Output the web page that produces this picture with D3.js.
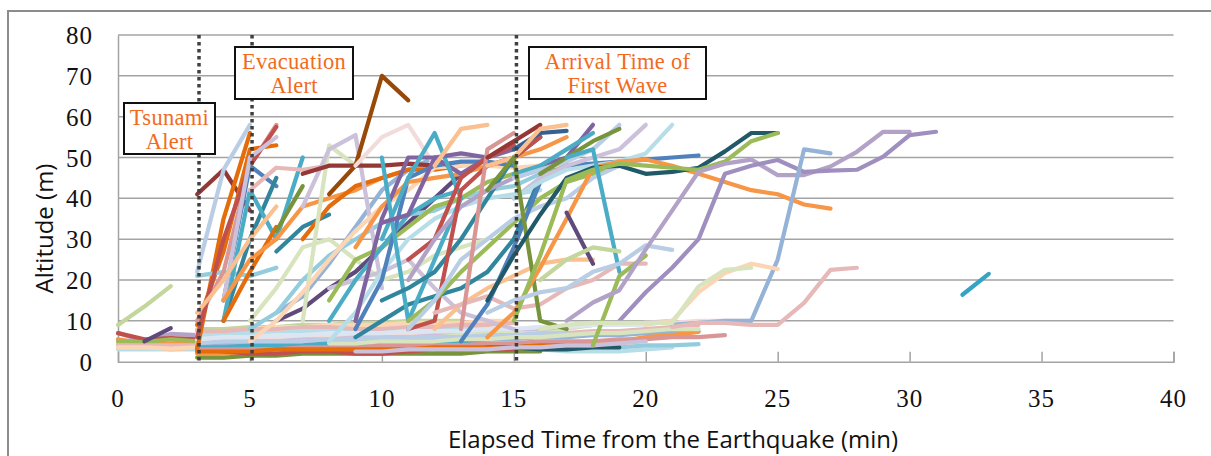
<!DOCTYPE html>
<html>
<head>
<meta charset="utf-8">
<script src="https://cdn.jsdelivr.net/npm/d3@7"></script>
<style>
  html, body { margin: 0; padding: 0; background: #fff; }
  svg { display: block; }
</style>
</head>
<body>
<div id="chart"></div>
<script>
// ---- data ----
const xTicks = [0, 5, 10, 15, 20, 25, 30, 35, 40];
const yTicks = [0, 10, 20, 30, 40, 50, 60, 70, 80];
const xTitle = 'Elapsed Time from the Earthquake (min)';
const yTitle = 'Altitude (m)';

// event markers (minutes) and the texts of their boxes
const eventTimes = [3.07, 5.08, 15.1];
const eventLabels = [
    ['Tsunami', 'Alert'],
    ['Evacuation', 'Alert'],
    ['Arrival Time of', 'First Wave']
];

// each track: colour, first minute, altitude (m) at every following minute
const lowTracks = [
    ['#B7DEE8', 0, [3, 3, 3, 3, 3.5, 3.5, 3.5, 4, 4, 3.5, 3.5, 3, 3, 3, 3, 3, 3, 2.5, 2.5, 2.5, 3, 3.5]],
    ['#FAC090', 0, [4.5, 4, 3, 3.5, 4, 5, 5, 6, 6.5, 7, 7, 7, 7.5, 8, 8, 8]],
    ['#F79646', 0, [5.5, 4.5, 4.5, 4.8, 5, 6, 6, 7, 8, 8, 8.5, 8.5, 9, 9]],
    ['#B3A2C7', 0, [7, 5, 6.8, 6.5, 6, 7, 7, 7.5, 8, 8, 8, 8.5, 9, 9, 9]],
    ['#C0504D', 0, [7, 5.5, 5.8, 5.5, 5]],
    ['#9BBB59', 0, [5, 4.8, 5.5, 5, 5]],
    ['#E6B9B8', 0, [4, 4, 4, 4, 4.5, 4.5, 4, 4, 4, 4, 4.5, 5, 5, 5.5, 6, 6, 6.5, 7, 7.5, 7.5, 8, 8.5, 9]],
    ['#FCD5B5', 0, [3.5, 3.5, 3.2, 3.5, 3.8, 4, 4, 4.5, 4.5, 5, 5, 5]],
    ['#95B3D7', 3, [4, 4, 4, 4.5, 4.5, 4.5, 5, 5, 5, 5, 5, 5.5, 5.5, 6, 6, 6.5, 6.5, 7, 7, 7.5]],
    ['#D7E4BD', 3, [6, 6, 6, 6, 6, 6, 6, 6.5, 6.5, 7, 7, 7.5, 7.5, 8, 8, 9]],
    ['#93CDDD', 3, [2, 2, 2.5, 2.5, 3, 3, 3, 3, 3, 3, 3, 3, 3, 3.5, 3.5, 3.5, 3.5, 4, 4, 4.3]],
    ['#77933C', 3, [1, 1, 1.5, 1.5, 2, 2, 2, 2, 2, 2, 2, 2.5, 2.5, 2.5]],
    ['#F79646', 3, [2, 2, 2.5, 2.5, 3, 3, 3, 3, 3.5, 3.5, 4, 4, 4, 4.5, 4.5, 5, 5, 6, 6.5, 7.3]],
    ['#C0504D', 3, [3, 2.5, 2, 2, 2.5, 2.5, 2, 2, 2.5, 3, 3, 3, 3]],
    ['#376092', 12, [3, 3, 4, 4, 3.5, 3.5, 4]],
    ['#CCC1DA', 3, [5, 5, 5.5, 5.5, 6, 6, 6.5, 6.5, 7, 7, 7.5, 8, 8, 8, 8.5, 9, 9, 9.5, 10]],
    ['#FCD5B5', 3, [7, 7.5, 7.5, 8, 8, 8, 8, 8.5, 8.5, 9, 9, 9]],
    ['#4BACC6', 3, [3.5, 3.5, 4, 4, 4, 4.5, 4.5, 4.5, 5, 5, 5, 5]],
    ['#F2DCDB', 3, [5.5, 5.5, 6, 6, 6.5, 6.5, 7, 7, 7, 7.5, 7.5, 8, 8, 8.5, 8.5, 9, 9, 9.5, 9.5, 10, 10, 10]],
    ['#D99694', 3, [3, 3, 3, 3, 3.5, 3.5, 3.5, 4, 4, 4, 4, 4.5, 4.5, 5, 5, 5, 5.5, 5.5, 6, 6, 6.5]],
    ['#B9CDE5', 3, [4.5, 5, 5, 5, 5, 5.5, 5.5, 6, 6, 6, 6, 6.5, 6.5, 7, 7]],
    ['#C3D69B', 3, [8, 8, 8.5, 8.5, 9, 9, 9.5, 9.5, 10, 10, 10]],
    ['#215968', 14, [3.5, 3.5, 3, 3, 3.5, 3.5]],
    ['#E46C0A', 3, [2.5, 2.5, 2.5, 3, 3, 3, 3, 3, 3, 3.5, 3.5, 3.5, 3.5, 4, 4, 4]],
    ['#FCD5B5', 5, [8, 8.5, 8.5, 9, 9, 9, 9.5, 9.5, 9.5, 10, 10]],
    ['#B7DEE8', 3, [6.5, 7, 7, 7, 7.5, 7.5, 7.5, 8, 8, 8, 8, 8]],
    ['#E6B9B8', 3, [7.5, 7.5, 8, 8, 8.5, 8.5, 8, 8, 8.5, 8.5, 9, 9, 9.5]],
    ['#DCE6F2', 3, [5.5, 6, 6, 6.5, 6.5, 7, 7, 7, 7.5, 7.5, 7.5, 8, 8, 8.5, 8.5, 9, 9, 9]],
    ['#D7E4BD', 8, [4.5, 4.5, 5, 5, 5, 5.5, 5.5, 6, 6, 6.5, 7, 7, 7.5, 8, 8]],
    ['#CCC1DA', 9, [2.5, 2.5, 3, 3, 3, 3, 3.5, 3.5, 4, 4, 4.5, 5]]
];

const climbTracks = [
    ['#C3D69B', 0, [9, 13.5, 18.5]],
    ['#604A7B', 1, [5, 8.2]],
    ['#953735', 3, [41, 47, 37]],
    ['#E46C0A', 3, [3, 35, 56]],
    ['#E46C0A', 3, [9, 27, 52, 53]],
    ['#B9CDE5', 3, [22, 47, 58]],
    ['#93CDDD', 3, [21, 22, 21, 23]],
    ['#D99694', 3, [10, 22, 48, 58]],
    ['#C0504D', 3, [6, 30, 48, 57.5]],
    ['#4F81BD', 4, [15, 48, 43]],
    ['#31859C', 4, [10, 30, 45]],
    ['#4BACC6', 4, [10, 42, 30, 50]],
    ['#CCC1DA', 4, [15, 50, 55]],
    ['#FAC090', 3, [12, 20, 30, 38]],
    ['#E46C0A', 4, [10, 22, 33]],
    ['#E6B9B8', 5, [42, 47.5, 47, 48]],
    ['#77933C', 6, [32, 43]],
    ['#31859C', 6, [27, 33, 36]],
    ['#F79646', 4, [15, 25, 30, 38, 40, 42, 45, 47, 48]],
    ['#D7E4BD', 5, [10, 18, 28, 30, 25, 20, 22, 26, 28, 30]],
    ['#95B3D7', 6, [12, 16, 24, 33, 42, 47, 50]],
    ['#E46C0A', 7, [30, 38, 43, 45, 47, 47, 48]],
    ['#604A7B', 6, [10, 13, 18, 22, 28, 34, 40, 46]],
    ['#93CDDD', 5, [8, 12, 20, 26, 30, 34, 36, 37, 40, 42, 43, 46]],
    ['#D7E4BD', 7, [10, 53, 48]],
    ['#CCC1DA', 7, [38, 52, 55.5, 18]],
    ['#953735', 7, [46, 48, 48, 48, 48.5, 48]],
    ['#984807', 8, [41, 48, 70, 64]],
    ['#CCC1DA', 8, [18, 20, 22, 25, 18, 12, 10, 8]],
    ['#9BBB59', 8, [15, 25, 28, 33, 38, 40, 44, 46, 47, 47.5]],
    ['#B7DEE8', 8, [5, 12, 22, 30, 35, 38, 40, 41, 42]],
    ['#4BACC6', 8, [10, 20, 28, 36, 40, 42]],
    ['#FCD5B5', 5, [5, 10, 17, 25, 32, 38, 42, 47.5, 48, 48, 47.5, 48, 48]],
    ['#F2DCDB', 9, [48, 55, 58, 48]],
    ['#4F81BD', 9, [8, 20, 45, 48, 49, 49, 48]],
    ['#F79646', 9, [28, 38, 44, 45, 46, 48, 50, 52, 55]],
    ['#31859C', 9, [6, 10, 14, 16, 18, 22, 30, 45, 48]],
    ['#8064A2', 9, [10, 35, 50, 50, 46, 50, 52, 55]],
    ['#4BACC6', 10, [50, 10, 25, 40]],
    ['#4BACC6', 10, [30, 45, 56, 40]],
    ['#8064A2', 10, [34, 36, 50, 51, 50]],
    ['#31859C', 10, [15, 18, 22, 30, 40, 50, 55]],
    ['#C0504D', 11, [25, 30, 45, 50, 53]],
    ['#B3A2C7', 11, [20, 30, 38, 42, 45, 47]],
    ['#C0504D', 11, [8, 10, 42, 48, 50, 55]],
    ['#9BBB59', 11, [10, 15, 22, 28, 34, 40, 44, 46, 48]],
    ['#B9CDE5', 11, [8, 15, 25, 30, 35, 38, 40, 45, 48]],
    ['#FAC090', 12, [48, 57, 58]],
    ['#FAC090', 12, [8, 14, 18, 21, 24, 25, 25]],
    ['#E6B9B8', 12, [12, 14, 16, 13, 14, 18, 20, 24, 24]],
    ['#D99694', 13, [8, 52, 56]],
    ['#4F81BD', 13, [5, 14, 28, 44, 48, 48.5, 49, 49.5, 50, 50.5]]
];

const lateTracks = [
    ['#376092', 15, [52, 56, 56.5]],
    ['#953735', 14, [50, 54, 58]],
    ['#FAC090', 14, [48, 50, 57, 58]],
    ['#8064A2', 16, [48, 50, 58]],
    ['#4BACC6', 15, [46, 48, 52, 56]],
    ['#B9CDE5', 15, [45, 47, 49, 52, 58]],
    ['#CCC1DA', 15, [40, 45, 48, 50, 52, 58]],
    ['#B7DEE8', 15, [40, 44, 47, 48, 49, 51, 58]],
    ['#77933C', 16, [46, 50, 54, 57]],
    ['#77933C', 14, [42, 50, 10, 8]],
    ['#F79646', 14, [6, 12, 23, 35, 47.5, 49, 49.5, 48, 46, 44, 42, 41, 38.5, 37.5]],
    ['#215968', 14, [15, 26, 36, 45, 47.5, 48, 46, 46.5, 47.5, 51.5, 56, 56]],
    ['#9BBB59', 15, [10, 26, 44.5, 47, 48.5, 48, 47.5, 47, 49, 54, 56]],
    ['#4BACC6', 17, [50, 52, 22]],
    ['#604A7B', 17, [36.5, 24]],
    ['#C3D69B', 16, [20, 25, 28, 27]],
    ['#9BBB59', 18, [4, 21, 26]],
    ['#B9CDE5', 14, [12, 15, 17, 18, 22, 24, 28.5, 27.4]],
    ['#B3A2C7', 17, [10, 14.5, 17.5, 27.5, 37, 46.5, 48.5, 49.5, 45.7, 45.7, 47.8, 51.4, 56.3, 56.3]],
    ['#9F8FBF', 19, [10, 17, 23, 30, 46, 48, 49.4, 46.5, 46.8, 47, 50.2, 55.5, 56.3]],
    ['#95B3D7', 21, [9, 9.5, 10, 10, 25, 52, 51]],
    ['#E6B9B8', 21, [8.5, 9.5, 9.5, 9, 9, 14.4, 22.5, 23]],
    ['#FCD5B5', 20, [9, 10, 17, 21.7, 24, 22.7]],
    ['#D7E4BD', 16, [8, 9, 9.5, 9.5, 9.5, 9.5, 18.4, 22.5, 23]],
    ['#35A3C3', 32, [16.4, 21.5]]
];

// ---- layout ----
const width = 1211;
const height = 456;
const plot = { left: 118, right: 1173.5, top: 35, bottom: 361.7 };
const gridColor = '#a3a3a3';
const labelColor = '#F26B1D';
const serif = '"Liberation Serif", "Times New Roman", serif';
const sans = '"Open Sans", "Noto Sans", sans-serif';

// annotation boxes in pixels: left, top, width, height
const boxFrames = [
    [124, 103, 91, 51],
    [235, 47, 118, 52],
    [529, 47, 177, 52]
];

/**
 * 创建 SVG 画布
 */
function createCanvas(containerId) {
    const svg = d3.select(`#${containerId}`)
        .append('svg')
        .attr('width', width)
        .attr('height', height)
        .attr('viewBox', [0, 0, width, height]);

    svg.append('rect')
        .attr('width', width)
        .attr('height', height)
        .attr('fill', '#fff');

    // chart area frame (only its top and left edges fall inside the picture)
    svg.append('path')
        .attr('d', `M8,${height + 5} L8,11 L${width + 5},11`)
        .attr('fill', 'none')
        .attr('stroke', '#8c8c8c')
        .attr('stroke-width', 2);

    return svg;
}

const svg = createCanvas('chart');

const x = d3.scaleLinear().domain([0, 40]).range([plot.left, plot.right]);
const y = d3.scaleLinear().domain([0, 80]).range([plot.bottom, plot.top]);

// 网格线
svg.append('g')
    .selectAll('line')
    .data(yTicks.filter(d => d > 0))
    .join('line')
    .attr('x1', plot.left)
    .attr('x2', plot.right)
    .attr('y1', d => y(d))
    .attr('y2', d => y(d))
    .attr('stroke', gridColor)
    .attr('stroke-width', 1.5);

// axes
const yAxis = svg.append('g')
    .attr('transform', `translate(${plot.left},0)`)
    .call(d3.axisLeft(y).tickValues(yTicks).tickSize(0).tickPadding(25));

const xAxis = svg.append('g')
    .attr('transform', `translate(0,${plot.bottom})`)
    .call(d3.axisTop(x).tickValues(xTicks.filter(d => d > 0)).tickSize(10).tickFormat(''));

[yAxis, xAxis].forEach(axis => {
    axis.select('.domain').attr('stroke', gridColor).attr('stroke-width', 1.5);
    axis.selectAll('.tick line').attr('stroke', gridColor).attr('stroke-width', 1.5);
});

yAxis.selectAll('.tick text')
    .attr('fill', '#111')
    .style('font-family', serif)
    .style('font-size', '25px')
    .style('letter-spacing', '1px')
    .attr('dy', '0.34em');

svg.append('g')
    .selectAll('text')
    .data(xTicks)
    .join('text')
    .attr('x', d => x(d))
    .attr('y', 407)
    .attr('text-anchor', 'middle')
    .attr('fill', '#111')
    .style('font-family', serif)
    .style('font-size', '25px')
    .style('letter-spacing', '1px')
    .text(d => d);

// axis titles
svg.append('text')
    .attr('x', 673)
    .attr('y', 448)
    .attr('text-anchor', 'middle')
    .style('font-family', sans)
    .style('font-size', '24px')
    .attr('fill', '#111')
    .text(xTitle);

svg.append('text')
    .attr('transform', 'translate(53,228.5) rotate(-90)')
    .attr('text-anchor', 'middle')
    .style('font-family', sans)
    .style('font-size', '24px')
    .attr('fill', '#111')
    .text(yTitle);

// 轨迹线
const line = d3.line()
    .x(d => x(d.t))
    .y(d => y(d.h));

const tracks = [...lowTracks, ...climbTracks, ...lateTracks].map(([color, start, values]) => ({
    color,
    points: values.map((h, i) => ({ t: start + i, h }))
}));

svg.append('g')
    .attr('fill', 'none')
    .attr('stroke-width', 4.2)
    .attr('stroke-linecap', 'round')
    .attr('stroke-linejoin', 'round')
    .selectAll('path')
    .data(tracks)
    .join('path')
    .attr('stroke', d => d.color)
    .attr('d', d => line(d.points));

// event markers (dotted)
svg.append('g')
    .selectAll('line')
    .data(eventTimes)
    .join('line')
    .attr('x1', d => x(d))
    .attr('x2', d => x(d))
    .attr('y1', plot.top)
    .attr('y2', plot.bottom + 2)
    .attr('stroke', '#404040')
    .attr('stroke-width', 3.5)
    .attr('stroke-dasharray', '3.5,3.5');

// 标注框
const boxes = svg.append('g')
    .selectAll('g')
    .data(eventLabels.map((lines, i) => ({ lines, frame: boxFrames[i] })))
    .join('g')
    .attr('transform', d => `translate(${d.frame[0]},${d.frame[1]})`);

boxes.append('rect')
    .attr('width', d => d.frame[2])
    .attr('height', d => d.frame[3])
    .attr('fill', '#fff')
    .attr('stroke', '#111')
    .attr('stroke-width', 2);

boxes.each(function(d) {
    d3.select(this).selectAll('text')
        .data(d.lines)
        .join('text')
        .attr('x', d.frame[2] / 2)
        .attr('y', (t, i) => 21.5 + 24 * i)
        .attr('text-anchor', 'middle')
        .attr('fill', labelColor)
        .style('font-family', serif)
        .style('font-size', '22.5px')
        .style('letter-spacing', '0.3px')
        .text(t => t);
});
</script>
</body>
</html>
